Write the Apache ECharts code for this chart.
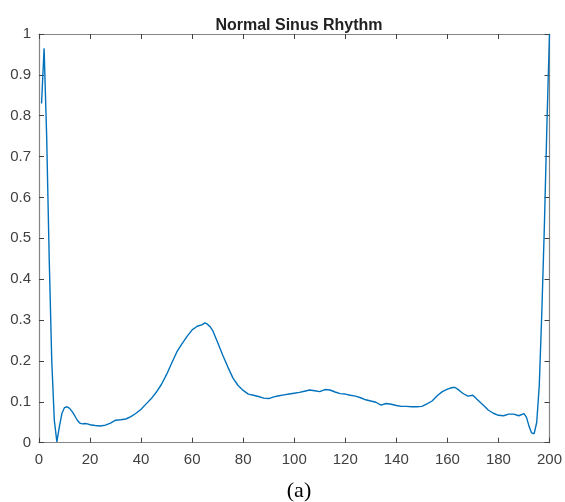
<!DOCTYPE html>
<html><head><meta charset="utf-8">
<script src="https://cdn.jsdelivr.net/npm/echarts@6/dist/echarts.min.js"></script>
<style>html,body{margin:0;padding:0;background:#fff}#c{width:565px;height:502px}</style>
</head><body><div id="c"></div>
<script>
var titleText = 'Normal Sinus Rhythm';
var captionText = '(a)';
var xTicks = [0,20,40,60,80,100,120,140,160,180,200];
var yTicks = [0,0.1,0.2,0.3,0.4,0.5,0.6,0.7,0.8,0.9,1];
var xs = [1,2,3,4,5,6,7,8,9,10,11,12,13,14,15,16,17,18,19,20,22,24,26,28,30,32,34,36,38,40,42,44,46,48,50,52,54,56,58,60,62,64,65,66,67,68,70,72,74,76,78,80,82,84,86,88,90,92,94,96,98,100,102,104,106,108,110,112,114,116,118,120,122,124,126,128,130,132,134,136,138,140,142,144,146,148,150,152,154,156,158,160,162,163,164,166,168,170,172,174,176,178,180,182,184,186,188,190,191,192,193,194,195,196,197,198,199,200];
var ys = [0.83,0.965,0.75,0.45,0.2,0.055,0.002,0.04,0.072,0.086,0.088,0.084,0.076,0.066,0.055,0.048,0.046,0.047,0.046,0.044,0.042,0.041,0.043,0.048,0.055,0.056,0.058,0.064,0.072,0.082,0.095,0.108,0.124,0.143,0.167,0.195,0.222,0.242,0.26,0.276,0.285,0.289,0.293,0.29,0.284,0.275,0.245,0.214,0.185,0.158,0.14,0.128,0.119,0.116,0.113,0.109,0.108,0.112,0.115,0.117,0.119,0.121,0.123,0.126,0.129,0.127,0.125,0.13,0.129,0.124,0.12,0.119,0.116,0.114,0.11,0.105,0.102,0.099,0.092,0.096,0.094,0.091,0.089,0.089,0.088,0.088,0.089,0.095,0.102,0.115,0.125,0.131,0.135,0.135,0.131,0.121,0.114,0.116,0.104,0.092,0.08,0.072,0.067,0.066,0.07,0.07,0.066,0.071,0.062,0.04,0.024,0.022,0.05,0.14,0.32,0.53,0.78,1.0];

var data = xs.map(function(x,i){return [x, ys[i]];});
var chart = echarts.init(document.getElementById('c'), null, {renderer:'canvas'});
var axisLineStyle = {color:'#858585', width:1.2};
var tickStyle = {color:'#404040', width:1};
var labelStyle = {color:'#404040', fontSize:15, fontFamily:'Liberation Sans, Arial, sans-serif'};
chart.setOption({
  animation:false,
  title:[{text:titleText, left:294, top:13, textAlign:'center',
    textStyle:{fontSize:16, fontWeight:'bold', color:'#222', fontFamily:'Liberation Sans Narrow, Liberation Sans, Arial, sans-serif'}},
    {text:captionText, left:294, top:475, textAlign:'center',
    textStyle:{fontSize:22, fontWeight:'normal', color:'#000', fontFamily:'Liberation Serif, Times New Roman, serif'}}],
  grid:{left:39, right:14.5, top:34, bottom:59.3, containLabel:false},
  xAxis:[{type:'value', min:0, max:200, interval:20, position:'bottom',
    axisLine:{show:true, onZero:false, lineStyle:axisLineStyle},
    axisTick:{show:true, inside:true, length:5, lineStyle:tickStyle},
    axisLabel:{show:true, margin:10, formatter:function(v){return xTicks.indexOf(v)>=0?String(v):'';}, ...labelStyle},
    splitLine:{show:false}},
    {type:'value', min:0, max:200, interval:20, position:'top',
    axisLine:{show:true, onZero:false, lineStyle:axisLineStyle},
    axisTick:{show:true, inside:true, length:5, lineStyle:tickStyle},
    axisLabel:{show:false}, splitLine:{show:false}}],
  yAxis:[{type:'value', min:0, max:1, interval:0.1, position:'left',
    axisLine:{show:true, onZero:false, lineStyle:axisLineStyle},
    axisTick:{show:true, inside:true, length:5, lineStyle:tickStyle},
    axisLabel:{show:true, margin:8, formatter:function(v){var r=Math.round(v*10)/10; return String(r);}, ...labelStyle},
    splitLine:{show:false}},
    {type:'value', min:0, max:1, interval:0.1, position:'right',
    axisLine:{show:true, onZero:false, lineStyle:axisLineStyle},
    axisTick:{show:true, inside:true, length:5, lineStyle:tickStyle},
    axisLabel:{show:false}, splitLine:{show:false}}],
  series:[{type:'line', data:data, showSymbol:false, smooth:false,
    lineStyle:{color:'#0072BD', width:1.4}, clip:true}]
});
</script></body></html>
